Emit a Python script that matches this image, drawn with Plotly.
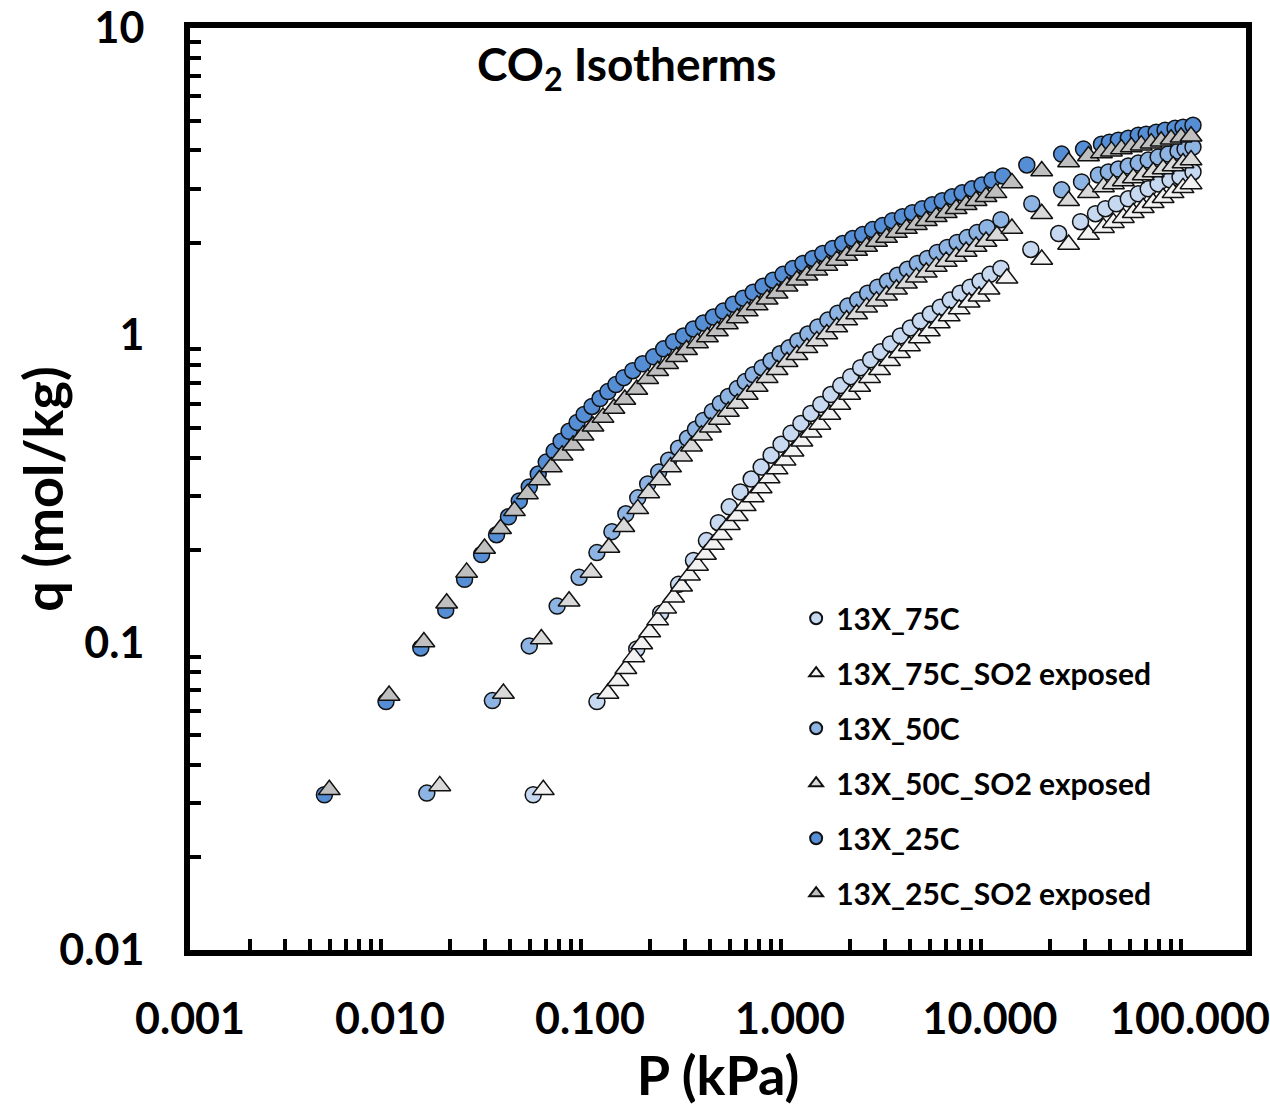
import plotly.graph_objects as go

# ---------------- data ----------------
P_75C = [0.0520, 0.1083, 0.1713, 0.2255, 0.2772, 0.3292, 0.3821, 0.4384, 0.4972, 0.5639,
         0.6397, 0.7173, 0.8043, 0.9020, 1.012, 1.134, 1.272, 1.426, 1.600, 1.793,
         2.011, 2.255, 2.529, 2.836, 3.181, 3.566, 3.999, 4.484, 5.029, 5.639,
         6.324, 7.091, 7.953, 8.917, 10.00, 11.34, 16.00, 22.04, 28.36, 33.69,
         37.77, 42.84, 49.14, 55.11, 61.80, 69.29, 79.53, 89.17, 103.5]
Q_75C = [0.0320, 0.0643, 0.0954, 0.1247, 0.1548, 0.1851, 0.2148, 0.2456, 0.2767, 0.3094,
         0.3407, 0.3726, 0.4074, 0.4421, 0.4799, 0.5170, 0.5570, 0.5957, 0.6418, 0.6863,
         0.7338, 0.7846, 0.8327, 0.8838, 0.9380, 0.9956, 1.057, 1.113, 1.173, 1.235,
         1.302, 1.371, 1.434, 1.499, 1.579, 1.651, 1.903, 2.144, 2.343, 2.487,
         2.582, 2.680, 2.782, 2.887, 2.997, 3.110, 3.204, 3.276, 3.400]

P_75C_SO2 = [0.0584, 0.1229, 0.1378, 0.1511, 0.1655, 0.1814, 0.1988, 0.2180, 0.2388, 0.2618,
             0.2869, 0.3144, 0.3446, 0.3777, 0.4140, 0.4536, 0.4972, 0.5449, 0.5971, 0.6545,
             0.7173, 0.7861, 0.8615, 0.9443, 1.035, 1.147, 1.272, 1.410, 1.581, 1.773,
             1.988, 2.230, 2.500, 2.804, 3.144, 3.526, 3.954, 4.434, 4.971, 5.575,
             6.252, 7.011, 7.862, 8.817, 9.886, 12.15, 18.14, 24.72, 31.08, 36.92,
             41.40, 46.42, 52.05, 58.37, 65.44, 73.38, 82.30, 92.30, 101.2]
Q_75C_SO2 = [0.0332, 0.0683, 0.0752, 0.0822, 0.0899, 0.0990, 0.1083, 0.1184, 0.1295, 0.1405,
             0.1526, 0.1656, 0.1784, 0.1935, 0.2085, 0.2245, 0.2420, 0.2588, 0.2787, 0.2980,
             0.3186, 0.3433, 0.3671, 0.3926, 0.4198, 0.4521, 0.4838, 0.5131, 0.5529, 0.5957,
             0.6418, 0.6812, 0.7284, 0.7728, 0.8264, 0.8772, 0.9240, 0.9808, 1.033, 1.097,
             1.155, 1.217, 1.282, 1.341, 1.413, 1.533, 1.766, 1.975, 2.127, 2.241,
             2.326, 2.415, 2.506, 2.601, 2.700, 2.802, 2.908, 3.019, 3.110]

P_50C = [0.01528, 0.0325, 0.0497, 0.0685, 0.0882, 0.1083, 0.1287, 0.1511, 0.1733, 0.1943,
         0.2205, 0.2472, 0.2772, 0.3074, 0.3369, 0.3692, 0.4092, 0.4484, 0.4915, 0.5449,
         0.5971, 0.6545, 0.7256, 0.8043, 0.8917, 0.9886, 1.096, 1.229, 1.378, 1.546,
         1.733, 1.944, 2.179, 2.444, 2.741, 3.073, 3.446, 3.865, 4.334, 4.860,
         5.449, 6.110, 6.852, 7.685, 8.616, 9.663, 11.34, 16.18, 22.81, 28.69,
         34.86, 39.08, 43.84, 49.14, 55.11, 61.80, 69.29, 77.70, 87.14, 94.43, 103.5]
Q_50C = [0.0324, 0.0648, 0.0976, 0.1315, 0.1631, 0.1964, 0.2297, 0.2626, 0.2959, 0.3283,
         0.3590, 0.3926, 0.4293, 0.4624, 0.4946, 0.5288, 0.5653, 0.6003, 0.6323, 0.6711,
         0.7071, 0.7447, 0.7846, 0.8264, 0.8707, 0.9105, 0.9592, 1.010, 1.065, 1.121,
         1.181, 1.245, 1.302, 1.371, 1.434, 1.499, 1.568, 1.640, 1.714, 1.779,
         1.861, 1.931, 2.005, 2.080, 2.159, 2.241, 2.378, 2.680, 2.974, 3.156,
         3.325, 3.400, 3.477, 3.555, 3.635, 3.717, 3.802, 3.888, 3.975, 4.036, 4.097]

P_50C_SO2 = [0.01774, 0.0369, 0.0571, 0.0786, 0.1012, 0.1243, 0.1476, 0.1733, 0.1966, 0.2230,
             0.2529, 0.2869, 0.3218, 0.3608, 0.3999, 0.4434, 0.4915, 0.5449, 0.6110, 0.6852,
             0.7686, 0.8615, 0.9663, 1.083, 1.215, 1.362, 1.528, 1.713, 1.921, 2.154,
             2.416, 2.709, 3.038, 3.406, 3.820, 4.283, 4.803, 5.386, 6.040, 6.773,
             7.597, 8.518, 9.553, 10.83, 12.87, 18.14, 24.72, 31.08, 36.92, 41.40,
             46.42, 52.05, 58.37, 65.44, 73.38, 82.30, 92.30, 101.2]
Q_50C_SO2 = [0.0342, 0.0683, 0.1028, 0.1364, 0.1693, 0.2039, 0.2384, 0.2725, 0.3071, 0.3383,
             0.3726, 0.4045, 0.4356, 0.4729, 0.5020, 0.5327, 0.5653, 0.6003, 0.6418, 0.6812,
             0.7284, 0.7728, 0.8204, 0.8641, 0.9105, 0.9592, 1.010, 1.065, 1.121, 1.173,
             1.235, 1.292, 1.351, 1.413, 1.477, 1.544, 1.603, 1.676, 1.740, 1.806,
             1.875, 1.945, 2.019, 2.112, 2.225, 2.487, 2.741, 2.908, 3.041, 3.110,
             3.180, 3.251, 3.325, 3.400, 3.477, 3.555, 3.635, 3.717]

P_25C = [0.0047, 0.00955, 0.01426, 0.0190, 0.0236, 0.0287, 0.0341, 0.0391, 0.0443, 0.0497,
         0.0551, 0.0604, 0.0662, 0.0717, 0.0786, 0.0862, 0.0934, 0.1023, 0.1122, 0.1229,
         0.1347, 0.1476, 0.1636, 0.1835, 0.2082, 0.2335, 0.2618, 0.2936, 0.3292, 0.3692,
         0.4140, 0.4642, 0.5205, 0.5837, 0.6545, 0.7338, 0.8229, 0.9230, 1.035, 1.161,
         1.301, 1.459, 1.636, 1.835, 2.058, 2.308, 2.588, 2.902, 3.253, 3.649,
         4.092, 4.589, 5.145, 5.770, 6.470, 7.256, 8.136, 9.125, 10.23, 11.60,
         15.28, 22.81, 29.35, 36.08, 39.54, 43.84, 49.14, 55.11, 60.40, 67.72,
         75.08, 84.22, 92.30, 103.5]
Q_25C = [0.0320, 0.0643, 0.0961, 0.1276, 0.1607, 0.1935, 0.2245, 0.2568, 0.2893, 0.3210,
         0.3538, 0.3869, 0.4198, 0.4521, 0.4872, 0.5208, 0.5529, 0.5868, 0.6228, 0.6561,
         0.6913, 0.7284, 0.7672, 0.8082, 0.851, 0.9036, 0.9522, 0.9956, 1.049, 1.097,
         1.147, 1.199, 1.263, 1.321, 1.381, 1.444, 1.511, 1.579, 1.651, 1.714,
         1.779, 1.847, 1.918, 1.989, 2.065, 2.127, 2.208, 2.275, 2.361, 2.432,
         2.506, 2.582, 2.660, 2.741, 2.823, 2.908, 2.997, 3.087, 3.200, 3.300,
         3.583, 3.888, 4.036, 4.188, 4.251, 4.315, 4.380, 4.478, 4.512, 4.579,
         4.648, 4.717, 4.753, 4.825]

P_25C_SO2 = [0.00497, 0.00989, 0.01477, 0.0192, 0.02416, 0.0297, 0.0357, 0.0419, 0.0486, 0.0558,
             0.0640, 0.0725, 0.0823, 0.0923, 0.1035, 0.1161, 0.1317, 0.1493, 0.1713, 0.1943,
             0.2180, 0.2444, 0.2709, 0.3038, 0.3446, 0.3864, 0.4334, 0.4860, 0.5449, 0.6110,
             0.6852, 0.7686, 0.8615, 0.9663, 1.083, 1.215, 1.362, 1.528, 1.713, 1.921,
             2.154, 2.416, 2.709, 3.038, 3.406, 3.820, 4.283, 4.803, 5.386, 6.040,
             6.773, 7.597, 8.518, 9.553, 10.71, 12.87, 18.14, 24.72, 31.08, 36.08,
             40.46, 45.36, 50.87, 57.05, 63.97, 71.73, 80.44, 90.22, 101.2]
Q_25C_SO2 = [0.0332, 0.0673, 0.1005, 0.1344, 0.1693, 0.2024, 0.2348, 0.2685, 0.3048, 0.3383,
             0.3726, 0.4074, 0.4388, 0.4729, 0.5058, 0.5408, 0.5781, 0.6182, 0.6662, 0.7228,
             0.7672, 0.8082, 0.8516, 0.8972, 0.9449, 0.9881, 1.033, 1.089, 1.138, 1.199,
             1.254, 1.311, 1.371, 1.444, 1.511, 1.568, 1.627, 1.689, 1.753, 1.819,
             1.889, 1.945, 2.019, 2.080, 2.159, 2.225, 2.292, 2.361, 2.432, 2.506,
             2.582, 2.660, 2.741, 2.823, 2.908, 3.133, 3.425, 3.664, 3.831, 3.917,
             3.975, 4.036, 4.097, 4.157, 4.220, 4.283, 4.347, 4.412, 4.445]

SERIES_NAMES = ["13X_75C", "13X_75C_SO2 exposed", "13X_50C",
                "13X_50C_SO2 exposed", "13X_25C", "13X_25C_SO2 exposed"]

X_TICK_VALS = [0.001, 0.01, 0.1, 1, 10, 100]
X_TICK_TEXT = ["0.001", "0.010", "0.100", "1.000", "10.000", "100.000"]
Y_TICK_VALS = [0.01, 0.1, 1, 10]
Y_TICK_TEXT = ["0.01", "0.1", "1", "10"]

# ---------------- figure ----------------
FONT = "Lato, 'Open Sans', sans-serif"
data = [(P_75C, Q_75C), (P_75C_SO2, Q_75C_SO2), (P_50C, Q_50C),
        (P_50C_SO2, Q_50C_SO2), (P_25C, Q_25C), (P_25C_SO2, Q_25C_SO2)]
styles = [("circle", "#C6D9F1", 16), ("triangle-up", "#F2F2F2", 19),
          ("circle", "#8EB4E3", 16), ("triangle-up", "#D9D9D9", 19),
          ("circle", "#558ED5", 16), ("triangle-up", "#BFBFBF", 19)]

fig = go.Figure()
for name, (p, q), (sym, col, size) in zip(SERIES_NAMES, data, styles):
    fig.add_trace(go.Scatter(
        x=p, y=q, mode="markers", name=name, legendgroup=name,
        marker=dict(symbol=sym, size=size, color=col,
                    line=dict(color="#111111", width=1.5)),
    ))

minor_x = [k * 10.0 ** e for e in range(-3, 3) for k in range(2, 10)]
minor_y = [k * 10.0 ** e for e in range(-2, 1) for k in range(2, 10)]

axis_common = dict(
    type="log", showgrid=False, zeroline=False, automargin=False,
    showline=True, linewidth=6, linecolor="black", mirror=True,
    ticks="", tickmode="array",
    tickfont=dict(family=FONT, size=43, color="black", weight="bold"),
)

fig.update_xaxes(
    **axis_common, range=[-3, 2.28],
    tickvals=X_TICK_VALS, ticktext=X_TICK_TEXT, ticklabelstandoff=26,
    minor=dict(tickmode="array", tickvals=minor_x, ticks="inside",
               ticklen=11, tickwidth=4, tickcolor="black"),
    title=dict(text="P (kPa)", standoff=14,
               font=dict(family=FONT, size=54, color="black", weight="bold")),
)
fig.update_yaxes(
    **axis_common, range=[-2, 1],
    tickvals=Y_TICK_VALS, ticktext=Y_TICK_TEXT, ticklabelstandoff=31,
    minor=dict(tickmode="array", tickvals=minor_y, ticks="inside",
               ticklen=11, tickwidth=4, tickcolor="black"),
)

# y-axis title
fig.add_annotation(
    text="q (mol/kg)", xref="paper", yref="paper",
    x=-0.1405, y=0.5, xanchor="center", yanchor="middle", textangle=-90,
    showarrow=False,
    font=dict(family=FONT, size=54, color="black", weight="bold"),
)

# chart title inside the plot
fig.add_annotation(
    text="CO<sub>2</sub> Isotherms", xref="paper", yref="paper",
    x=0.27, y=0.958, xanchor="left", yanchor="middle", showarrow=False,
    font=dict(family=FONT, size=46, color="black", weight="bold"),
)

fig.update_layout(
    template="none",
    width=1270, height=1107,
    margin=dict(l=190, r=24, t=28, b=157),
    paper_bgcolor="white", plot_bgcolor="white",
    showlegend=True,
    legend=dict(x=0.574, y=0.388, xanchor="left", yanchor="top",
                bgcolor="rgba(0,0,0,0)", borderwidth=0,
                tracegroupgap=13, itemsizing="constant",
                font=dict(family=FONT, size=30, color="black", weight="bold")),
)

fig.write_html("out.html")
